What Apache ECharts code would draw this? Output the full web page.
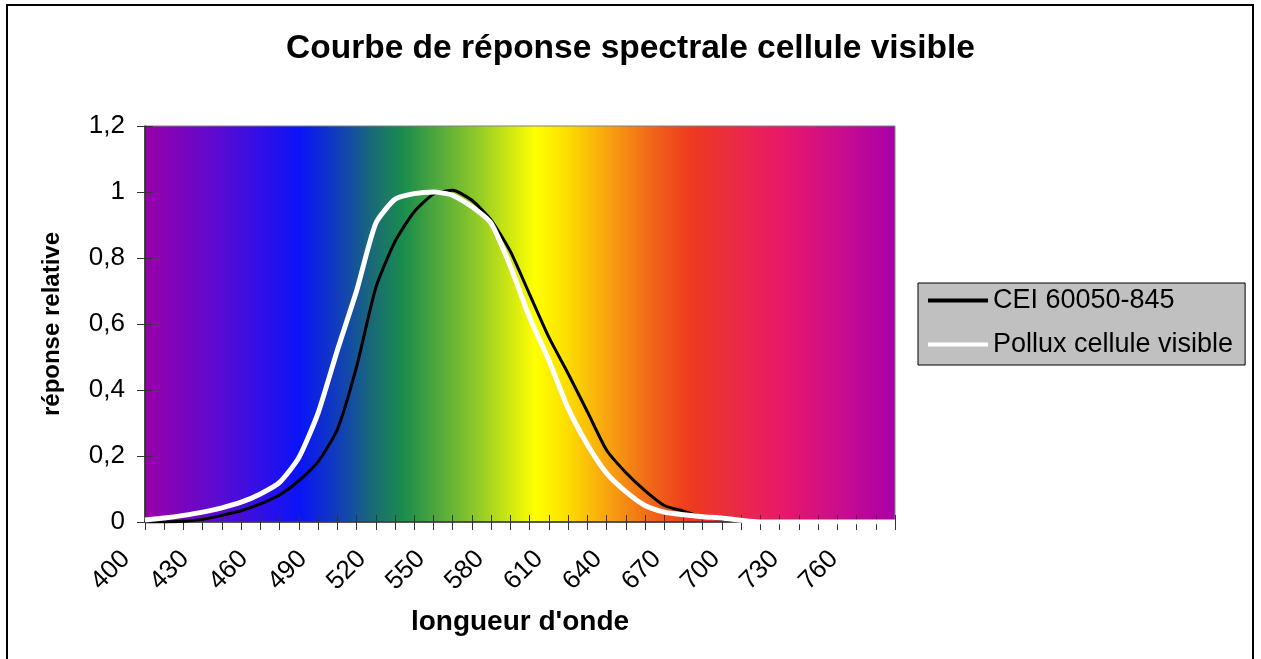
<!DOCTYPE html>
<html>
<head>
<meta charset="utf-8">
<script src="https://cdn.jsdelivr.net/npm/echarts@6/dist/echarts.min.js"></script>
<style>
html,body{margin:0;padding:0;background:#fff;}
#chart{width:1261px;height:659px;}
</style>
</head>
<body>
<div id="chart"></div>
<script>
// Wavelength categories (nm)
const wavelengths = ['400','410','420','430','440','450','460','470','480','490',
  '500','510','520','530','540','550','560','570','580','590',
  '600','610','620','630','640','650','660','670','680','690',
  '700','710','720','730','740','750','760','770','780','790'];
// X tick labels (every 30 nm)
const xTickLabels = ['400','430','460','490','520','550','580','610','640','670','700','730','760'];
// Y tick labels
const yTickLabels = ['0','0,2','0,4','0,6','0,8','1','1,2'];
// Series values
const cei = [0,0,0.002,0.008,0.02,0.034,0.055,0.082,0.125,0.183,
  0.28,0.47,0.71,0.85,0.94,0.993,1.005,0.975,0.915,0.82,
  0.69,0.56,0.45,0.335,0.218,0.15,0.095,0.05,0.033,0.015,
  0.008,0.002,0,0,0,0,0,0,0,0];
const pollux = [0.006,0.012,0.02,0.03,0.043,0.06,0.085,0.12,0.195,0.33,
  0.52,0.70,0.905,0.978,0.995,1.0,0.99,0.955,0.905,0.775,
  0.62,0.49,0.345,0.235,0.148,0.092,0.05,0.03,0.022,0.016,
  0.012,0.005,0,0,0,0,0,0,0,0];
const seriesNames = ['CEI 60050-845','Pollux cellule visible'];
const titleText = 'Courbe de réponse spectrale cellule visible';
const xName = "longueur d'onde";
const yName = 'réponse relative';

const FONT = "'Liberation Sans', Arial, sans-serif";
const chart = echarts.init(document.getElementById('chart'), null, {renderer:'canvas'});

const spectrum = {
  type:'linear', x:0, y:0, x2:1, y2:0,
  colorStops:[
    {offset:0, color:'#9b00a8'},
    {offset:0.1, color:'#5a0ad2'},
    {offset:0.207, color:'#0a14f8'},
    {offset:0.265, color:'#1244b0'},
    {offset:0.305, color:'#1a6c74'},
    {offset:0.345, color:'#1a8c4c'},
    {offset:0.44, color:'#8cc82a'},
    {offset:0.52, color:'#ffff00'},
    {offset:0.56, color:'#fde000'},
    {offset:0.62, color:'#f8a010'},
    {offset:0.673, color:'#f06818'},
    {offset:0.727, color:'#ee3a1e'},
    {offset:0.78, color:'#ea2c40'},
    {offset:0.85, color:'#e8186a'},
    {offset:0.92, color:'#cc0e8a'},
    {offset:1, color:'#a800a8'}
  ]
};

const option = {
  backgroundColor:'#ffffff',
  animation:false,
  title:{
    text:titleText, left:'center', top:27,
    textStyle:{fontFamily:FONT, fontSize:33.5, fontWeight:'bold', color:'#000'}
  },
  legend:{
    orient:'vertical', left:918, top:283,
    backgroundColor:'#c0c0c0', borderColor:'#000', borderWidth:1, borderRadius:0,
    padding:[4,12,7,10],
    icon:'rect',
    itemWidth:60, itemHeight:4, itemGap:17,
    textStyle:{fontFamily:FONT, fontSize:27, color:'#000', lineHeight:26},
    data:seriesNames
  },
  graphic:[{
    type:'rect', silent:true, z:100,
    shape:{x:7, y:5, width:1246, height:700},
    style:{fill:'none', stroke:'#000', lineWidth:2}
  }],
  grid:[
    {left:145, top:126, width:750, height:396, show:true,
     backgroundColor:spectrum, borderColor:'#808080', borderWidth:1},
    {left:126, top:126, width:708, height:396, show:false}
  ],
  xAxis:[
    {type:'category', gridIndex:0, data:wavelengths, boundaryGap:false, position:'bottom',
     name:xName, nameLocation:'middle', nameGap:86,
     nameTextStyle:{fontFamily:FONT, fontSize:28, fontWeight:'bold', color:'#000'},
     axisLine:{show:true, lineStyle:{color:'#333', width:1.5}},
     axisTick:{show:true, interval:0, inside:false, length:8, lineStyle:{color:'#333', width:1}},
     axisLabel:{show:false}, splitLine:{show:false}},
    {type:'category', gridIndex:0, data:wavelengths, boundaryGap:false, position:'bottom',
     axisLine:{show:false},
     axisTick:{show:true, interval:0, inside:true, length:7, lineStyle:{color:'#333', width:1}},
     axisLabel:{show:false}, splitLine:{show:false}},
    {type:'category', gridIndex:1, data:xTickLabels, boundaryGap:false, position:'bottom',
     axisLine:{show:false}, axisTick:{show:false}, splitLine:{show:false},
     axisLabel:{show:true, interval:0, rotate:45, margin:33,
       fontFamily:FONT, fontSize:26, color:'#000'}}
  ],
  yAxis:[
    {type:'value', gridIndex:0, min:0, max:1.2, interval:0.2, position:'left',
     name:yName, nameLocation:'middle', nameGap:81, nameRotate:90,
     nameTextStyle:{fontFamily:FONT, fontSize:24, fontWeight:'bold', color:'#000'},
     axisLine:{show:true, lineStyle:{color:'#222', width:1.5}},
     axisTick:{show:true, inside:false, length:8, lineStyle:{color:'#333', width:1}},
     axisLabel:{show:true, margin:20, fontFamily:FONT, fontSize:26, color:'#000',
       formatter:function(v){ return yTickLabels[Math.round(v/0.2)]; }},
     splitLine:{show:false}},
    {type:'value', gridIndex:0, min:0, max:1.2, interval:0.2, position:'left',
     axisLine:{show:false},
     axisTick:{show:true, inside:true, length:8, lineStyle:{color:'#333', width:1}},
     axisLabel:{show:false}, splitLine:{show:false}},
    {type:'value', gridIndex:1, min:0, max:1.2, show:false}
  ],
  series:[
    {name:seriesNames[0], type:'line', xAxisIndex:0, yAxisIndex:0, data:cei,
     symbol:'none', smooth:0.2, z:3,
     lineStyle:{color:'#000', width:3}, itemStyle:{color:'#000'}},
    {name:seriesNames[1], type:'line', xAxisIndex:0, yAxisIndex:0, data:pollux,
     symbol:'none', smooth:0.2, z:4,
     lineStyle:{color:'#fff', width:5}, itemStyle:{color:'#fff'}}
  ]
};
chart.setOption(option);
</script>
</body>
</html>
